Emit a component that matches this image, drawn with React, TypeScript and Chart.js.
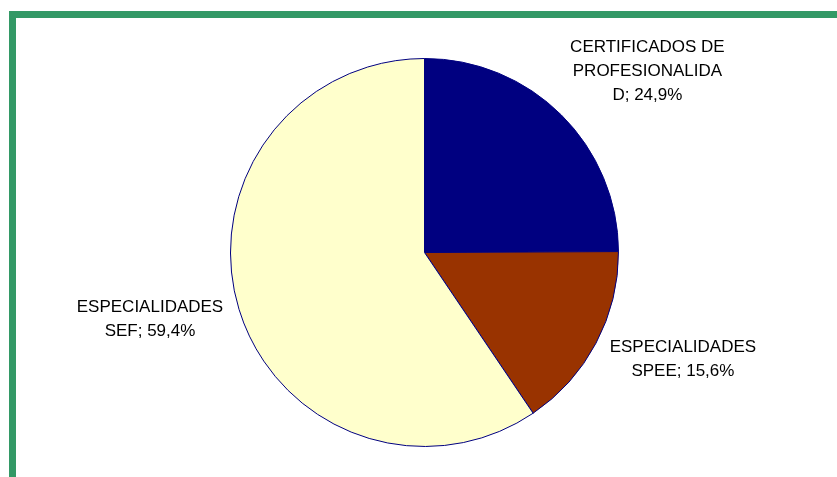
import React, { useEffect, useRef } from "react";
import { Chart, registerables } from "chart.js";

Chart.register(...registerables);

const categories = ["CERTIFICADOS DE PROFESIONALIDAD", "ESPECIALIDADES SPEE", "ESPECIALIDADES SEF"];
const values = [24.9, 15.6, 59.4];
const valueLabels = ["24,9%", "15,6%", "59,4%"];
const labelLines = [
  ["CERTIFICADOS DE", "PROFESIONALIDA", "D; 24,9%"],
  ["ESPECIALIDADES", "SPEE; 15,6%"],
  ["ESPECIALIDADES", "SEF; 59,4%"],
];
const colors = ["#000080", "#993300", "#FFFFCC"];
// label block centres relative to pie centre, in units of the pie radius
const labelOffsets = [
  [1.149, -0.933],
  [1.332, 0.552],
  [-1.415, 0.345],
];

const labelPlugin = {
  id: "pieLabels",
  afterDatasetsDraw(chart: any) {
    const meta = chart.getDatasetMeta(0);
    const ctx = chart.ctx;
    ctx.save();
    ctx.font = '17px "Liberation Sans", Arial, sans-serif';
    ctx.fillStyle = "#000000";
    ctx.textAlign = "center";
    ctx.textBaseline = "middle";
    const lh = 24;
    meta.data.forEach((arc: any, i: number) => {
      const r = arc.outerRadius;
      const cx = arc.x + labelOffsets[i][0] * r;
      const cy = arc.y + labelOffsets[i][1] * r;
      const lines = labelLines[i];
      const start = cy - ((lines.length - 1) * lh) / 2;
      lines.forEach((t, j) => ctx.fillText(t, cx, start + j * lh));
    });
    ctx.restore();
  },
};

export default function App() {
  const ref = useRef<HTMLCanvasElement | null>(null);
  useEffect(() => {
    if (!ref.current) return;
    const chart = new Chart(ref.current, {
      type: "pie",
      data: {
        labels: categories,
        datasets: [
          {
            data: values,
            backgroundColor: colors,
            borderColor: "#000080",
            borderWidth: 1,
          },
        ],
      },
      options: {
        animation: false,
        responsive: false,
        maintainAspectRatio: false,
        layout: { padding: { left: 230, top: 58, right: 218, bottom: 30 } },
        plugins: {
          legend: { display: false },
          tooltip: { enabled: false },
        },
      },
      plugins: [labelPlugin],
    });
    return () => chart.destroy();
  }, []);

  return (
    <div style={{ position: "fixed", left: 0, top: 0, width: 837, height: 477, background: "#fff", overflow: "hidden" }}>
      <div
        style={{
          position: "absolute",
          left: 9,
          top: 11,
          right: -10,
          bottom: 0,
          borderTop: "7px solid #339966",
          borderLeft: "7px solid #339966",
        }}
      />
      <canvas ref={ref} width={837} height={477} style={{ position: "absolute", left: 0, top: 0 }} />
    </div>
  );
}
